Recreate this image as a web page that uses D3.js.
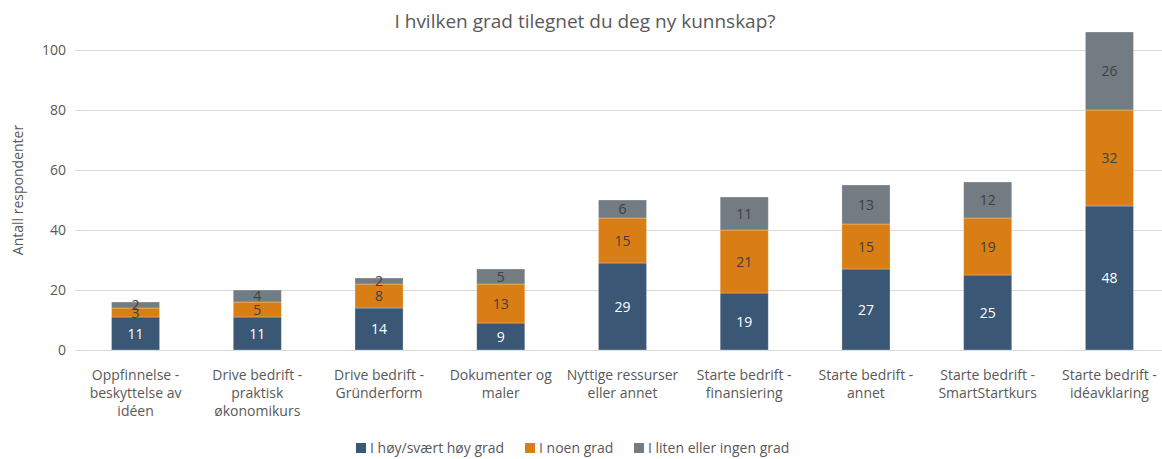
<!DOCTYPE html>
<html>
<head>
<meta charset="utf-8">
<script src="https://cdn.jsdelivr.net/npm/d3@7"></script>
<style>
  body { margin: 0; background: #fff; }
  svg { display: block; font-family: "Open Sans", "Liberation Sans", sans-serif; }
</style>
</head>
<body>
<svg id="chart"></svg>
<script>
const categories = [
  ["Oppfinnelse -", "beskyttelse av", "idéen"],
  ["Drive bedrift -", "praktisk", "økonomikurs"],
  ["Drive bedrift -", "Gründerform"],
  ["Dokumenter og", "maler"],
  ["Nyttige ressurser", "eller annet"],
  ["Starte bedrift -", "finansiering"],
  ["Starte bedrift -", "annet"],
  ["Starte bedrift -", "SmartStartkurs"],
  ["Starte bedrift -", "idéavklaring"]
];
const seriesNames = ["I høy/svært høy grad", "I noen grad", "I liten eller ingen grad"];
const highValues = [11, 11, 14, 9, 29, 19, 27, 25, 48];
const someValues = [3, 5, 8, 13, 15, 21, 15, 19, 32];
const lowValues = [2, 4, 2, 5, 6, 11, 13, 12, 26];
const yTicks = [0, 20, 40, 60, 80, 100];

const colors = ["#3b5776", "#d87e15", "#737b83"];
const labelColors = ["#ffffff", "#404040", "#404040"];

const width = 1162, height = 459;
const margin = { top: 50, right: -8, bottom: 109, left: 75 };

const svg = d3.select("#chart").attr("width", width).attr("height", height);

const rows = categories.map((c, i) => ({
  idx: i,
  high: highValues[i],
  some: someValues[i],
  low: lowValues[i]
}));
const keys = ["high", "some", "low"];
const stacked = d3.stack().keys(keys)(rows);

const x = d3.scaleBand()
  .domain(d3.range(categories.length))
  .range([margin.left, width - margin.right])
  .paddingInner(0.605)
  .paddingOuter(0.3);

const y = d3.scaleLinear()
  .domain([0, 100])
  .range([height - margin.bottom, margin.top]);

// gridlines
svg.append("g")
  .selectAll("line")
  .data(yTicks)
  .join("line")
  .attr("x1", margin.left)
  .attr("x2", width)
  .attr("y1", (d) => y(d) + 0.5)
  .attr("y2", (d) => y(d) + 0.5)
  .attr("stroke", "#d9d9d9")
  .attr("stroke-width", 1);

// y axis labels
const yAxis = svg.append("g")
  .attr("transform", `translate(${margin.left - 9},0)`)
  .call(d3.axisLeft(y).tickValues(yTicks).tickSize(0).tickPadding(0));
yAxis.select(".domain").remove();
yAxis.selectAll("text")
  .attr("font-size", "14px")
  .attr("fill", "#595959")
  .attr("font-family", "Open Sans, Liberation Sans, sans-serif");

// bars
const layers = svg.append("g")
  .selectAll("g")
  .data(stacked)
  .join("g")
  .attr("fill", (d, i) => colors[i]);

layers.selectAll("rect")
  .data((d) => d)
  .join("rect")
  .attr("x", (d) => x(d.data.idx))
  .attr("width", x.bandwidth())
  .attr("y", (d) => y(d[1]))
  .attr("height", (d) => y(d[0]) - y(d[1]))
  .attr("stroke", "#ffffff")
  .attr("stroke-opacity", 0.35)
  .attr("stroke-width", 0.8);

// value labels
layers.each(function (layer, li) {
  d3.select(this)
    .selectAll("text")
    .data(layer)
    .join("text")
    .attr("x", (d) => x(d.data.idx) + x.bandwidth() / 2)
    .attr("y", (d) => (y(d[0]) + y(d[1])) / 2)
    .attr("dy", "0.36em")
    .attr("text-anchor", "middle")
    .attr("font-size", "14px")
    .attr("fill", labelColors[li])
    .text((d) => d[1] - d[0]);
});

// x category labels
const xLabels = svg.append("g")
  .selectAll("text")
  .data(categories)
  .join("text")
  .attr("x", (d, i) => x(i) + x.bandwidth() / 2)
  .attr("y", 380)
  .attr("text-anchor", "middle")
  .attr("font-size", "14px")
  .attr("fill", "#595959");
xLabels.selectAll("tspan")
  .data((d) => d)
  .join("tspan")
  .attr("x", function () { return d3.select(this.parentNode).attr("x"); })
  .attr("dy", (d, i) => (i === 0 ? 0 : 18))
  .text((d) => d);

// title
svg.append("text")
  .attr("x", 585)
  .attr("y", 28)
  .attr("text-anchor", "middle")
  .attr("font-size", "19px")
  .attr("fill", "#595959")
  .text("I hvilken grad tilegnet du deg ny kunnskap?");

// y axis title
svg.append("text")
  .attr("transform", `translate(23,${y(50) - 10}) rotate(-90)`)
  .attr("text-anchor", "middle")
  .attr("font-size", "14px")
  .attr("fill", "#595959")
  .text("Antall respondenter");

// legend
const legendX = [356, 525, 634];
const legend = svg.append("g")
  .selectAll("g")
  .data(seriesNames)
  .join("g")
  .attr("transform", (d, i) => `translate(${legendX[i]},443)`);
legend.append("rect")
  .attr("width", 10)
  .attr("height", 10)
  .attr("fill", (d, i) => colors[i]);
legend.append("text")
  .attr("x", 14)
  .attr("y", 5)
  .attr("dy", "0.36em")
  .attr("font-size", "14px")
  .attr("fill", "#595959")
  .text((d) => d);
</script>
</body>
</html>
